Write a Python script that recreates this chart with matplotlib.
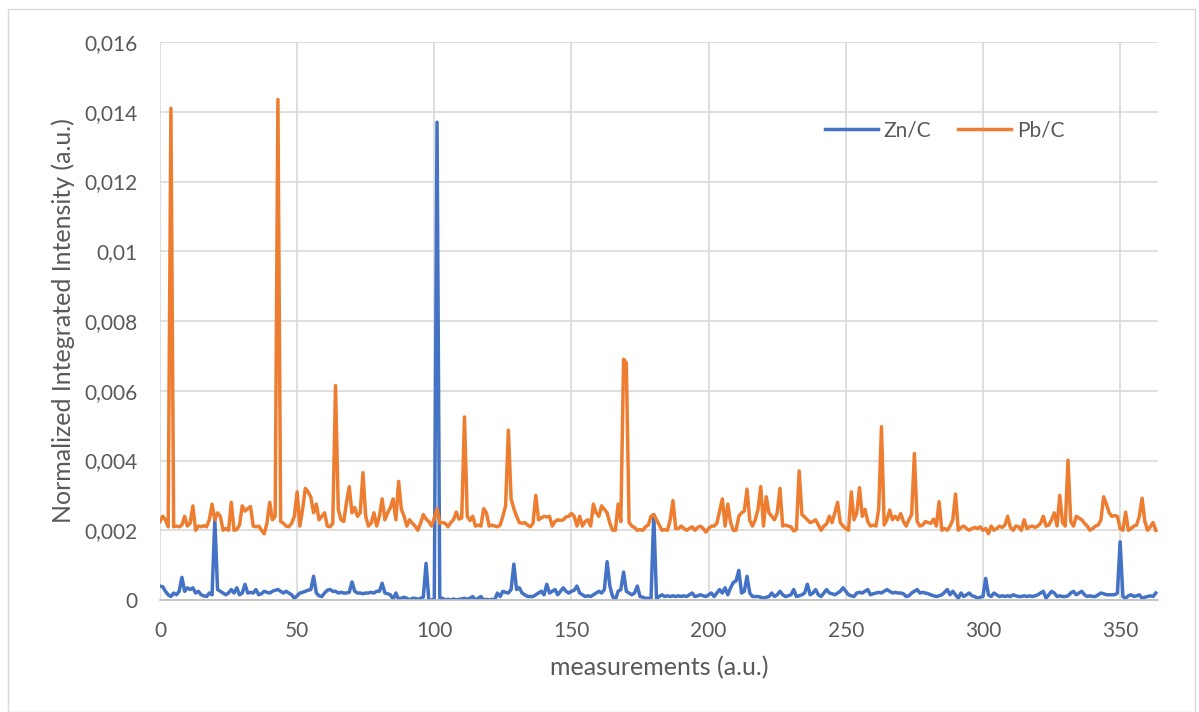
import numpy as np
import matplotlib.pyplot as plt
from matplotlib.patches import Rectangle

plt.rcParams['font.family'] = ['Lato', 'DejaVu Sans']

# valeurs, en unités de 1e-5
pb_c = [
    225, 240, 230, 210, 1410, 210, 212, 210, 215, 240,
    212, 220, 270, 200, 212, 210, 213, 210, 230, 275,
    230, 250, 240, 200, 205, 200, 280, 200, 202, 215,
    270, 255, 262, 268, 212, 210, 212, 200, 190, 220,
    280, 230, 240, 1435, 225, 220, 212, 210, 220, 240,
    310, 212, 260, 320, 310, 295, 250, 275, 230, 240,
    250, 212, 210, 220, 615, 260, 230, 225, 280, 325,
    250, 265, 240, 250, 365, 240, 212, 220, 250, 212,
    240, 290, 230, 250, 265, 290, 230, 340, 260, 240,
    212, 230, 220, 212, 200, 220, 245, 232, 225, 212,
    235, 262, 220, 222, 220, 210, 222, 230, 252, 232,
    235, 525, 240, 228, 240, 212, 215, 212, 262, 250,
    212, 215, 212, 210, 215, 240, 270, 487, 290, 262,
    240, 222, 220, 222, 215, 210, 220, 300, 230, 235,
    240, 238, 240, 212, 225, 230, 228, 230, 238, 240,
    248, 240, 212, 240, 212, 225, 230, 212, 275, 250,
    240, 270, 260, 250, 220, 200, 200, 275, 225, 690,
    680, 222, 212, 208, 200, 202, 200, 210, 215, 240,
    245, 230, 215, 200, 202, 200, 230, 285, 205, 205,
    212, 205, 200, 205, 210, 200, 208, 212, 205, 195,
    205, 212, 212, 220, 255, 290, 212, 275, 222, 200,
    200, 240, 250, 255, 318, 228, 212, 230, 260, 325,
    212, 296, 250, 240, 230, 250, 320, 212, 215, 212,
    210, 198, 202, 370, 245, 238, 230, 222, 225, 230,
    215, 200, 212, 218, 240, 222, 250, 280, 222, 212,
    205, 200, 310, 230, 250, 322, 240, 260, 225, 212,
    215, 212, 260, 497, 215, 230, 258, 230, 240, 230,
    248, 225, 212, 230, 245, 420, 225, 212, 215, 225,
    222, 220, 232, 212, 282, 200, 205, 200, 212, 230,
    304, 200, 208, 212, 205, 200, 205, 208, 205, 210,
    200, 205, 190, 212, 200, 205, 212, 208, 215, 240,
    208, 200, 212, 210, 200, 230, 205, 210, 212, 208,
    212, 220, 240, 212, 215, 230, 250, 212, 300, 222,
    212, 401, 225, 212, 240, 235, 230, 220, 212, 200,
    205, 212, 215, 230, 296, 275, 250, 240, 242, 240,
    205, 200, 252, 200, 205, 212, 215, 240, 292, 225,
    200, 210, 222, 200,
]

zn_c = [
    40, 38, 25, 15, 10, 20, 15, 25, 65, 25,
    35, 30, 35, 20, 25, 15, 12, 10, 20, 15,
    230, 30, 25, 20, 15, 20, 30, 20, 35, 15,
    20, 45, 20, 22, 20, 30, 15, 18, 25, 22,
    20, 25, 28, 30, 25, 20, 25, 20, 15, 5,
    12, 20, 22, 25, 28, 30, 68, 20, 12, 10,
    20, 28, 30, 25, 25, 20, 22, 20, 20, 22,
    52, 25, 20, 20, 18, 20, 20, 22, 20, 25,
    25, 48, 20, 18, 15, 2, 20, 2, 5, 8,
    5, 0, 5, 5, 2, 5, 8, 105, 0, 0,
    2, 1370, 5, 5, 0, 2, 0, 3, 0, 2,
    3, 5, 2, 5, 10, 0, 5, 10, 0, 2,
    0, 2, 0, 20, 10, 25, 22, 20, 30, 103,
    30, 35, 20, 15, 10, 10, 10, 15, 20, 25,
    15, 45, 20, 25, 30, 15, 25, 35, 25, 20,
    25, 28, 40, 20, 15, 10, 12, 10, 15, 20,
    25, 20, 30, 110, 40, 10, 0, 25, 30, 80,
    25, 20, 15, 20, 40, 10, 8, 5, 5, 5,
    245, 5, 10, 15, 10, 12, 10, 12, 10, 12,
    10, 12, 10, 15, 20, 10, 12, 15, 12, 10,
    15, 20, 10, 20, 30, 20, 35, 15, 35, 50,
    55, 85, 20, 25, 68, 20, 10, 10, 10, 8,
    5, 8, 10, 20, 10, 15, 25, 15, 10, 12,
    15, 30, 10, 12, 15, 20, 45, 15, 20, 30,
    15, 10, 20, 30, 20, 18, 15, 20, 25, 35,
    25, 15, 12, 10, 20, 22, 20, 25, 30, 15,
    18, 20, 22, 20, 25, 30, 25, 20, 22, 20,
    20, 18, 10, 12, 20, 25, 30, 20, 22, 20,
    18, 15, 12, 10, 12, 15, 22, 30, 15, 25,
    15, 5, 20, 10, 15, 20, 12, 10, 5, 8,
    10, 62, 15, 10, 20, 15, 10, 12, 10, 12,
    10, 15, 12, 10, 10, 12, 10, 12, 10, 12,
    15, 20, 25, 5, 15, 25, 20, 10, 12, 10,
    10, 12, 20, 25, 15, 20, 25, 15, 10, 12,
    10, 10, 15, 20, 18, 15, 15, 15, 15, 20,
    167, 10, 5, 12, 15, 10, 12, 15, 5, 8,
    10, 12, 10, 20,
]

y_ticks = [0, 0.002, 0.004, 0.006, 0.008, 0.01, 0.012, 0.014, 0.016]
y_tick_labels = ['0', '0,002', '0,004', '0,006', '0,008', '0,01', '0,012', '0,014', '0,016']
x_ticks = [0, 50, 100, 150, 200, 250, 300, 350]

x = np.arange(len(pb_c))
zn = np.array(zn_c) * 1e-5
pb = np.array(pb_c) * 1e-5

fig = plt.figure(figsize=(11.99, 7.12), dpi=100)
fig.patches.append(Rectangle((0.007, 0.0), 0.99, 0.988, transform=fig.transFigure,
                             fill=False, edgecolor='#d9d9d9', linewidth=1))
ax = fig.add_axes([0.1334, 0.1573, 0.8324, 0.7837])

ax.plot(x, zn, color='#4472c4', linewidth=2.5, label='Zn/C', solid_joinstyle='round')
ax.plot(x, pb, color='#ed7d31', linewidth=2.5, label='Pb/C', solid_joinstyle='round')

ax.set_xlim(0, 363.8)
ax.set_ylim(0, 0.016)
ax.set_xticks(x_ticks)
ax.set_yticks(y_ticks)
ax.set_yticklabels(y_tick_labels)
ax.tick_params(axis='both', length=0, labelsize=15, labelcolor='#595959')
ax.tick_params(axis='y', pad=16)
ax.tick_params(axis='x', pad=15)

ax.grid(True, color='#d9d9d9', linewidth=1.2)
ax.set_axisbelow(True)
for s in ['top', 'right', 'left']:
    ax.spines[s].set_visible(False)
ax.spines['bottom'].set_color('#bfbfbf')
ax.spines['bottom'].set_linewidth(1.2)

ax.set_xlabel('measurements (a.u.)', fontsize=18, color='#595959', labelpad=11)
ax.set_ylabel('Normalized Integrated Intensity (a.u.)', fontsize=18, color='#595959', labelpad=7)

leg = ax.legend(loc='center left', bbox_to_anchor=(0.648, 0.842), ncol=2, frameon=False,
                fontsize=15, handlelength=2.5, columnspacing=1.3, handletextpad=0.3)
for t in leg.get_texts():
    t.set_color('#595959')

fig.savefig('out.png', dpi=100)
